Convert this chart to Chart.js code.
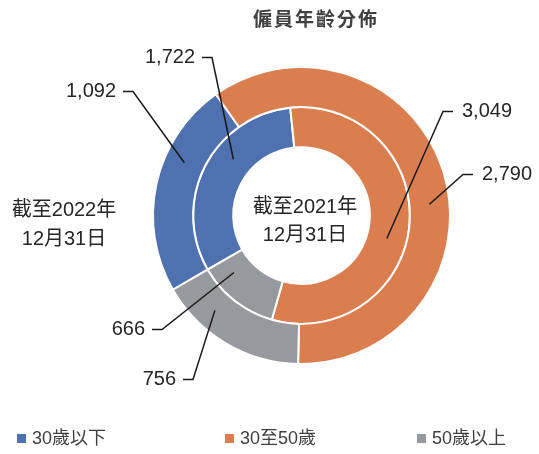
<!DOCTYPE html>
<html>
<head>
<meta charset="utf-8">
<script src="https://cdn.jsdelivr.net/npm/chart.js@4.4.1/dist/chart.umd.min.js"></script>
<style>
  html, body { margin: 0; padding: 0; background: #fff; }
  #wrap { position: relative; width: 539px; height: 454px; }
</style>
</head>
<body>
<div id="wrap"><canvas id="ageChart" width="539" height="454"></canvas></div>
<script>
// Employee age distribution, two rings: outer = 2022, inner = 2021
const categories = ['30歲以下', '30至50歲', '50歲以上'];
const ringNames = ['截至2022年12月31日', '截至2021年12月31日'];
const values2022 = [1092, 2790, 756];
const values2021 = [1722, 3049, 666];
const sliceColors = ['#4f71af', '#da7e4f', '#98999c'];

const titleText = '僱員年齡分佈';
const outerCaption = ['截至2022年', '12月31日'];
const innerCaption = ['截至2021年', '12月31日'];

// where each value label sits (elbow point relative to the ring centre)
// t = fraction along the slice where the leader line touches it
const labelPlacement = [
    { ds: 0, i: 0, t: 0.64, dx: -168.5, dy: -124, side: 'left' },
    { ds: 1, i: 0, t: 0.61, dx: -89.5, dy: -158, side: 'left' },
    { ds: 1, i: 1, t: 0.55, dx: 141.5, dy: -104, side: 'right' },
    { ds: 0, i: 1, t: 0.555, dx: 161.5, dy: -41, side: 'right' },
    { ds: 1, i: 2, t: 0.77, dx: -139.5, dy: 114, side: 'left' },
    { ds: 0, i: 2, t: 0.70, dx: -108.5, dy: 164, side: 'left' }
];
const legendX = [17, 225, 417];

const FONT = '"Liberation Sans", Arial, "Noto Sans CJK TC", sans-serif';
const TEXT_COLOR = '#262626';

const annotate = {
    id: 'annotate',
    afterDatasetsDraw(chart) {
        const ctx = chart.ctx;
        const meta0 = chart.getDatasetMeta(0);
        const cx = meta0.data[0].x;
        const cy = meta0.data[0].y;
        ctx.save();

        // leader lines + value labels
        labelPlacement.forEach(function (p) {
            const arc = chart.getDatasetMeta(p.ds).data[p.i];
            const a = arc.startAngle + p.t * (arc.endAngle - arc.startAngle);
            const r = (arc.innerRadius + arc.outerRadius) / 2;
            const px = arc.x + r * Math.cos(a);
            const py = arc.y + r * Math.sin(a);
            const ex = cx + p.dx;
            const ey = cy + p.dy;
            const dashEnd = p.side === 'left' ? ex - 10 : ex + 10;

            ctx.strokeStyle = '#1a1a1a';
            ctx.lineWidth = 1.5;
            ctx.beginPath();
            ctx.moveTo(dashEnd, ey);
            ctx.lineTo(ex, ey);
            ctx.lineTo(px, py);
            ctx.stroke();

            const val = chart.data.datasets[p.ds].data[p.i];
            ctx.fillStyle = TEXT_COLOR;
            ctx.font = '20px ' + FONT;
            ctx.textBaseline = 'middle';
            ctx.textAlign = p.side === 'left' ? 'right' : 'left';
            ctx.fillText(val.toLocaleString('en-US'),
                p.side === 'left' ? dashEnd - 7 : dashEnd + 9, ey);
        });

        // ring captions
        ctx.font = '20px ' + FONT;
        ctx.textAlign = 'center';
        ctx.fillStyle = TEXT_COLOR;
        ctx.fillText(innerCaption[0], cx + 3.5, cy - 8);
        ctx.fillText(innerCaption[1], cx + 3.5, cy + 20);
        ctx.fillText(outerCaption[0], 64, 210);
        ctx.fillText(outerCaption[1], 64, 239);

        // title
        ctx.font = 'bold 19px "Noto Sans CJK TC", sans-serif';
        ctx.fillStyle = '#404040';
        ctx.letterSpacing = '2px';
        ctx.textAlign = 'center';
        ctx.fillText(titleText, 316, 19);
        ctx.letterSpacing = '0px';

        // legend
        ctx.font = '18px ' + FONT;
        ctx.textAlign = 'left';
        categories.forEach(function (c, k) {
            ctx.fillStyle = sliceColors[k];
            ctx.fillRect(legendX[k], 434, 9, 9);
            ctx.fillStyle = '#404040';
            ctx.fillText(c, legendX[k] + 15, 439);
        });
        ctx.restore();
    }
};

new Chart(document.getElementById('ageChart'), {
    type: 'doughnut',
    data: {
        labels: categories,
        datasets: [
            { label: ringNames[0], data: values2022, backgroundColor: sliceColors, borderColor: '#ffffff', borderWidth: 2 },
            { label: ringNames[1], data: values2021, backgroundColor: sliceColors, borderColor: '#ffffff', borderWidth: 2 }
        ]
    },
    options: {
        responsive: false,
        animation: false,
        events: [],
        rotation: 240,
        cutout: '46%',
        layout: { padding: { left: 152, right: 88, top: 66, bottom: 89 } },
        plugins: {
            legend: { display: false },
            title: { display: false },
            tooltip: { enabled: false }
        }
    },
    plugins: [annotate]
});
</script>
</body>
</html>
